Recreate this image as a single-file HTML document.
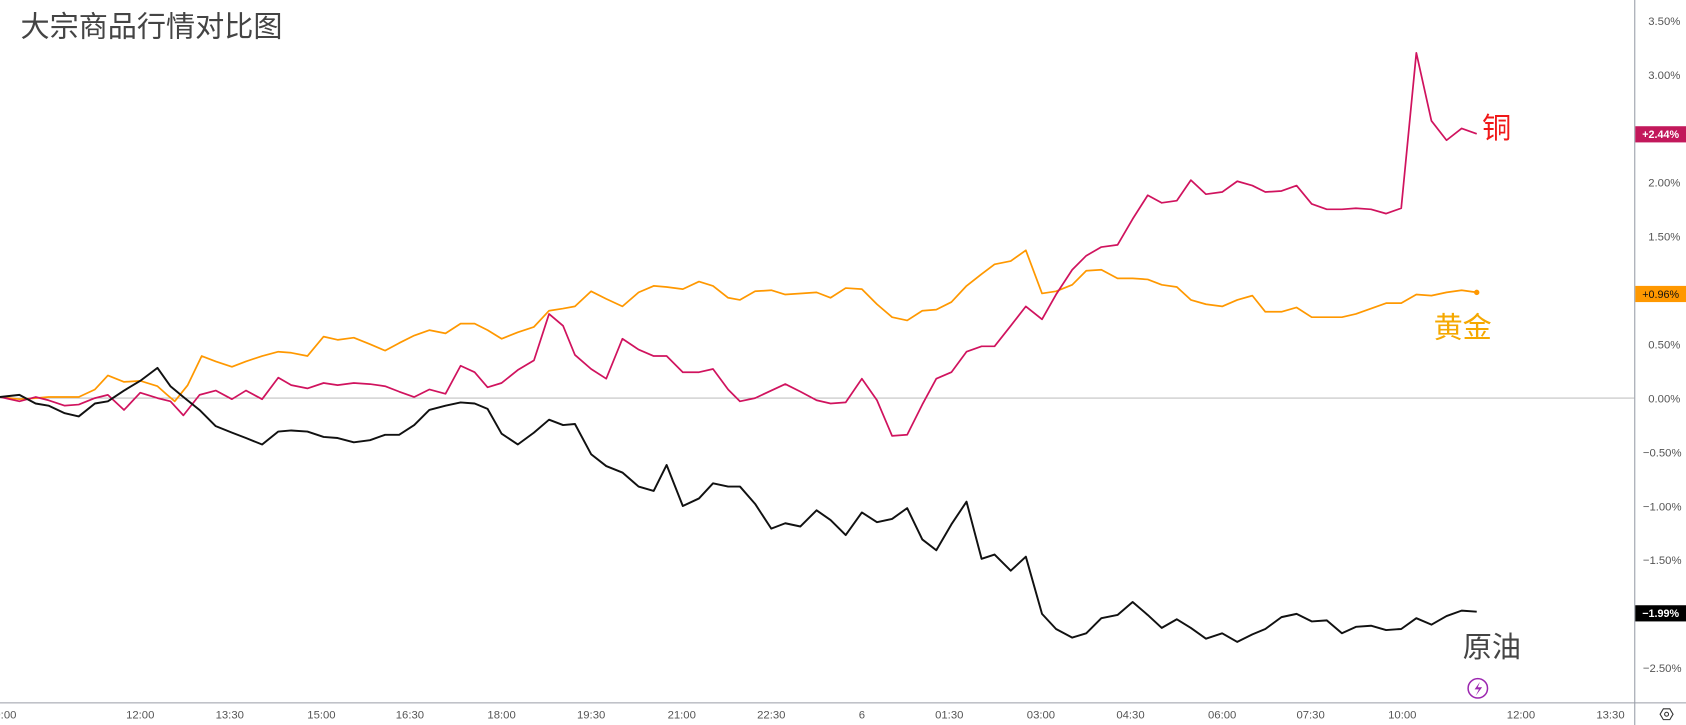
<!DOCTYPE html>
<html><head><meta charset="utf-8"><style>
html,body{margin:0;padding:0;background:#fff;}
svg{display:block;}
text{font-family:"Liberation Sans","Noto Sans CJK SC",sans-serif;}
</style></head><body>
<svg width="1686" height="725" viewBox="0 0 1563 672" preserveAspectRatio="none" xmlns="http://www.w3.org/2000/svg">
<rect width="1563" height="672" fill="#fff"/>
<line x1="0" y1="369" x2="1515" y2="369" stroke="#b0b0b0" stroke-width="0.8"/>
<line x1="1515.5" y1="0" x2="1515.5" y2="672" stroke="#9a9ea8" stroke-width="1"/>
<line x1="0" y1="651.5" x2="1563" y2="651.5" stroke="#9a9ea8" stroke-width="1"/>
<g font-size="10.5" fill="#555" text-anchor="start">
<text x="1528" y="23">3.50%</text>
<text x="1528" y="73">3.00%</text>
<text x="1528" y="173">2.00%</text>
<text x="1528" y="223">1.50%</text>
<text x="1528" y="323">0.50%</text>
<text x="1528" y="373">0.00%</text>
<text x="1523" y="423">−0.50%</text>
<text x="1523" y="473">−1.00%</text>
<text x="1523" y="523">−1.50%</text>
<text x="1523" y="623">−2.50%</text>
</g>
<g font-size="10.5" fill="#555" text-anchor="middle">
<text x="5" y="666">9:00</text><text x="130" y="666">12:00</text><text x="213" y="666">13:30</text>
<text x="298" y="666">15:00</text><text x="380" y="666">16:30</text><text x="465" y="666">18:00</text>
<text x="548" y="666">19:30</text><text x="632" y="666">21:00</text><text x="715" y="666">22:30</text>
<text x="799" y="666">6</text><text x="880" y="666">01:30</text><text x="965" y="666">03:00</text>
<text x="1048" y="666">04:30</text><text x="1133" y="666">06:00</text><text x="1215" y="666">07:30</text>
<text x="1300" y="666">10:00</text><text x="1410" y="666">12:00</text><text x="1493" y="666">13:30</text>
</g>
<polygon points="1539,662 1542,657 1548,657 1551,662 1548,667 1542,667" fill="none" stroke="#333" stroke-width="1"/>
<circle cx="1545" cy="662" r="1.8" fill="none" stroke="#333" stroke-width="1"/>
<text x="19" y="34" font-size="27" fill="#444">大宗商品行情对比图</text>
<polyline fill="none" stroke="#ff9800" stroke-width="1.6" stroke-linejoin="round" points="0,368 18,370 33,369 45,368 60,368 73,368 88,361 100,348 115,354 130,353 146,358 155,366 162,372 174,357 187,330 200,335 215,340 228,335 243,330 258,326 270,327 285,330 300,312 313,315 328,313 343,319 357,325 370,318 384,311 398,306 413,309 427,300 440,300 452,306 465,314 480,308 495,303 509,288 522,286 533,284 548,270 562,277 577,284 592,271 606,265 618,266 633,268 648,261 661,265 675,276 686,278 700,270 715,269 728,273 742,272 757,271 770,276 784,267 799,268 813,282 827,294 841,297 855,288 868,287 882,280 896,265 910,254 922,245 937,242 951,232 966,272 979,270 994,264 1007,251 1021,250 1036,258 1050,258 1064,259 1077,264 1091,266 1104,278 1118,282 1133,284 1147,278 1161,274 1173,289 1188,289 1202,285 1216,294 1230,294 1244,294 1257,291 1271,286 1285,281 1299,281 1313,273 1327,274 1341,271 1355,269 1369,271"/>
<circle cx="1369" cy="271" r="2.5" fill="#ff9800"/>
<polyline fill="none" stroke="#d0135e" stroke-width="1.6" stroke-linejoin="round" points="0,368 18,372 33,368 45,371 60,376 73,375 88,369 100,366 115,380 130,364 146,369 158,372 170,385 185,366 200,362 215,370 228,362 243,370 258,350 270,357 285,360 300,355 313,357 328,355 343,356 357,358 370,363 384,368 398,361 413,365 427,339 440,345 452,359 465,355 480,343 495,334 509,291 522,302 533,329 548,342 562,351 577,314 592,324 606,330 618,330 633,345 648,345 661,342 675,361 686,372 700,369 715,362 728,356 742,363 757,371 770,374 784,373 799,351 813,371 827,404 841,403 855,375 868,351 882,345 896,326 910,321 922,321 937,302 951,284 966,296 979,273 994,250 1007,237 1021,229 1036,227 1050,203 1064,181 1077,188 1091,186 1104,167 1118,180 1133,178 1147,168 1161,172 1173,178 1188,177 1202,172 1216,189 1230,194 1244,194 1257,193 1271,194 1285,198 1299,193 1313,49 1327,112 1341,130 1355,119 1369,124"/>
<polyline fill="none" stroke="#111" stroke-width="1.8" stroke-linejoin="round" points="0,368 18,366 33,374 45,376 60,383 73,386 88,374 100,372 115,362 130,353 146,341 158,358 170,368 185,380 200,395 215,401 228,406 243,412 258,400 270,399 285,400 300,405 313,406 328,410 343,408 357,403 370,403 384,394 398,380 413,376 427,373 440,374 452,379 465,402 480,412 495,401 509,389 522,394 533,393 548,421 562,432 577,438 592,451 606,455 618,431 633,469 648,462 661,448 675,451 686,451 700,467 715,490 728,485 742,488 757,473 770,482 784,496 799,475 813,484 827,481 841,471 855,500 868,510 882,486 896,465 910,518 922,514 937,529 951,516 966,569 979,583 994,591 1007,587 1021,573 1036,570 1050,558 1064,570 1077,582 1091,574 1104,582 1118,592 1133,587 1147,595 1161,588 1173,583 1188,572 1202,569 1216,576 1230,575 1244,587 1257,581 1271,580 1285,584 1299,583 1313,573 1327,579 1341,571 1355,566 1369,567"/>
<text x="1374" y="128" font-size="27" fill="#f01818">铜</text>
<text x="1329" y="313" font-size="27" fill="#f5a800">黄金</text>
<text x="1356" y="609" font-size="27" fill="#444">原油</text>
<rect x="1516" y="117" width="47" height="15" fill="#c2185b"/>
<text x="1539.5" y="128" font-size="10" font-weight="bold" fill="#fff" text-anchor="middle">+2.44%</text>
<rect x="1516" y="265" width="47" height="15" fill="#ff9800"/>
<text x="1539.5" y="276" font-size="10" fill="#111" text-anchor="middle">+0.96%</text>
<rect x="1516" y="561" width="47" height="15" fill="#000"/>
<text x="1539.5" y="572" font-size="10" font-weight="bold" fill="#fff" text-anchor="middle">−1.99%</text>
<circle cx="1370" cy="638" r="9" fill="none" stroke="#9c27b0" stroke-width="1.4"/>
<path d="M1372,632 L1367,639 L1371,639 L1368,645 L1374,637 L1370,637 Z" fill="#9c27b0"/>
</svg>
</body></html>
